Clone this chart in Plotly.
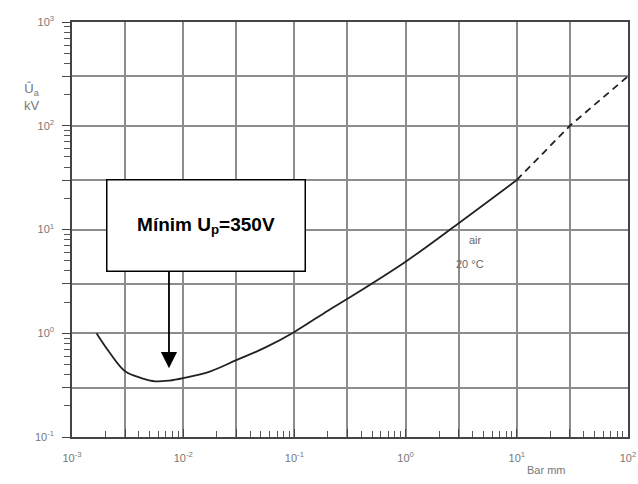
import math
import plotly.graph_objects as go

# Paschen curve for air, 20 °C
pd_solid = [0.00166, 0.00217, 0.003, 0.0042, 0.0056, 0.0075, 0.01, 0.0176, 0.03, 0.055, 0.1, 0.2, 0.3, 1.0, 3.0, 10.0]
u_solid = [1.0, 0.655, 0.43, 0.37, 0.344, 0.35, 0.37, 0.43, 0.55, 0.73, 1.03, 1.65, 2.15, 4.9, 11.5, 30.0]

pd_dash = [10.0, 30.0, 100.0]
u_dash = [30.0, 100.0, 300.0]

x_grid_vals = [0.001, 0.003, 0.01, 0.03, 0.1, 0.3, 1, 3, 10, 30, 100]
x_grid_text = ["10<sup>-3</sup>", "", "10<sup>-2</sup>", "", "10<sup>-1</sup>", "", "10<sup>0</sup>", "", "10<sup>1</sup>", "", "10<sup>2</sup>"]
y_grid_vals = [0.1, 0.3, 1, 3, 10, 30, 100, 300, 1000]
y_grid_text = ["10<sup>-1</sup>", "", "10<sup>0</sup>", "", "10<sup>1</sup>", "", "10<sup>2</sup>", "", "10<sup>3</sup>"]

annot_text = "Mínim U<sub>p</sub>=350V"
arrow_tip = (0.00745, 0.46)
arrow_tail = (0.00745, 4.05)

FONT = "Liberation Sans, Arial"

fig = go.Figure()
fig.add_trace(go.Scatter(x=pd_solid, y=u_solid, mode="lines",
                         line=dict(color="#222", width=1.8, shape="spline", smoothing=1.0),
                         showlegend=False, hoverinfo="skip"))
fig.add_trace(go.Scatter(x=pd_dash, y=u_dash, mode="lines",
                         line=dict(color="#222", width=1.8, dash="7px,5px"),
                         showlegend=False, hoverinfo="skip"))

axis_common = dict(
    type="log", showgrid=True, gridcolor="#8c8c8c", gridwidth=1.5,
    showline=True, linecolor="#444", linewidth=1.5, mirror=True,
    ticklen=8, tickcolor="#444", tickwidth=1.2,
    tickfont=dict(family=FONT, size=11, color="#777"),
    zeroline=False, automargin=False,
)

fig.update_xaxes(range=[-3, 2], tickmode="array", tickvals=x_grid_vals, ticktext=x_grid_text,
                 ticks="inside", ticklabelstandoff=10,
                 minor=dict(ticks="inside", ticklen=6, tickcolor="#555", dtick="D1", showgrid=False),
                 **axis_common)
fig.update_yaxes(range=[-1, 3], tickmode="array", tickvals=y_grid_vals, ticktext=y_grid_text,
                 ticks="outside", ticklabelstandoff=6,
                 minor=dict(ticks="outside", ticklen=6, tickcolor="#555", dtick="D1", showgrid=False),
                 **axis_common)

fig.add_annotation(x=math.log10(arrow_tip[0]), y=math.log10(arrow_tip[1]),
                   ax=math.log10(arrow_tail[0]), ay=math.log10(arrow_tail[1]),
                   axref="x", ayref="y", xref="x", yref="y", text="",
                   showarrow=True, arrowhead=2, arrowsize=1.8, arrowwidth=1.8, arrowcolor="#000")
fig.add_annotation(xref="paper", yref="paper", x=(206 - 72) / 556, y=(437 - 225) / 415,
                   text="<b>" + annot_text + "</b>", showarrow=False,
                   font=dict(family=FONT, size=19, color="#000"),
                   bgcolor="#fff", bordercolor="#000", borderwidth=1.5,
                   width=195, height=88, xanchor="center", yanchor="middle")
fig.add_annotation(xref="paper", yref="paper", x=(484 - 72) / 556, y=(437 - 240) / 415,
                   text="air", showarrow=False,
                   font=dict(family=FONT, size=11, color="#666"))
fig.add_annotation(xref="paper", yref="paper", x=(486 - 72) / 556, y=(437 - 264) / 415,
                   text="20 °C", showarrow=False,
                   font=dict(family=FONT, size=11, color="#666"))
fig.add_annotation(xref="paper", yref="paper", x=(568 - 72) / 556, y=-(478 - 437) / 415,
                   text="Bar mm", showarrow=False,
                   font=dict(family=FONT, size=11, color="#777"))
fig.add_annotation(xref="paper", yref="paper", x=-(72 - 22) / 556, y=(437 - 79) / 415,
                   text="Û<sub>a</sub><br>kV", showarrow=False, align="center",
                   font=dict(family=FONT, size=13, color="#777"))

fig.update_layout(width=638, height=484, margin=dict(l=72, r=10, t=22, b=47),
                  plot_bgcolor="#fff", paper_bgcolor="#fff")

fig.write_html("out.html", config={"displayModeBar": False},
               post_script="document.body.style.margin='0';document.body.style.overflow='hidden';")
